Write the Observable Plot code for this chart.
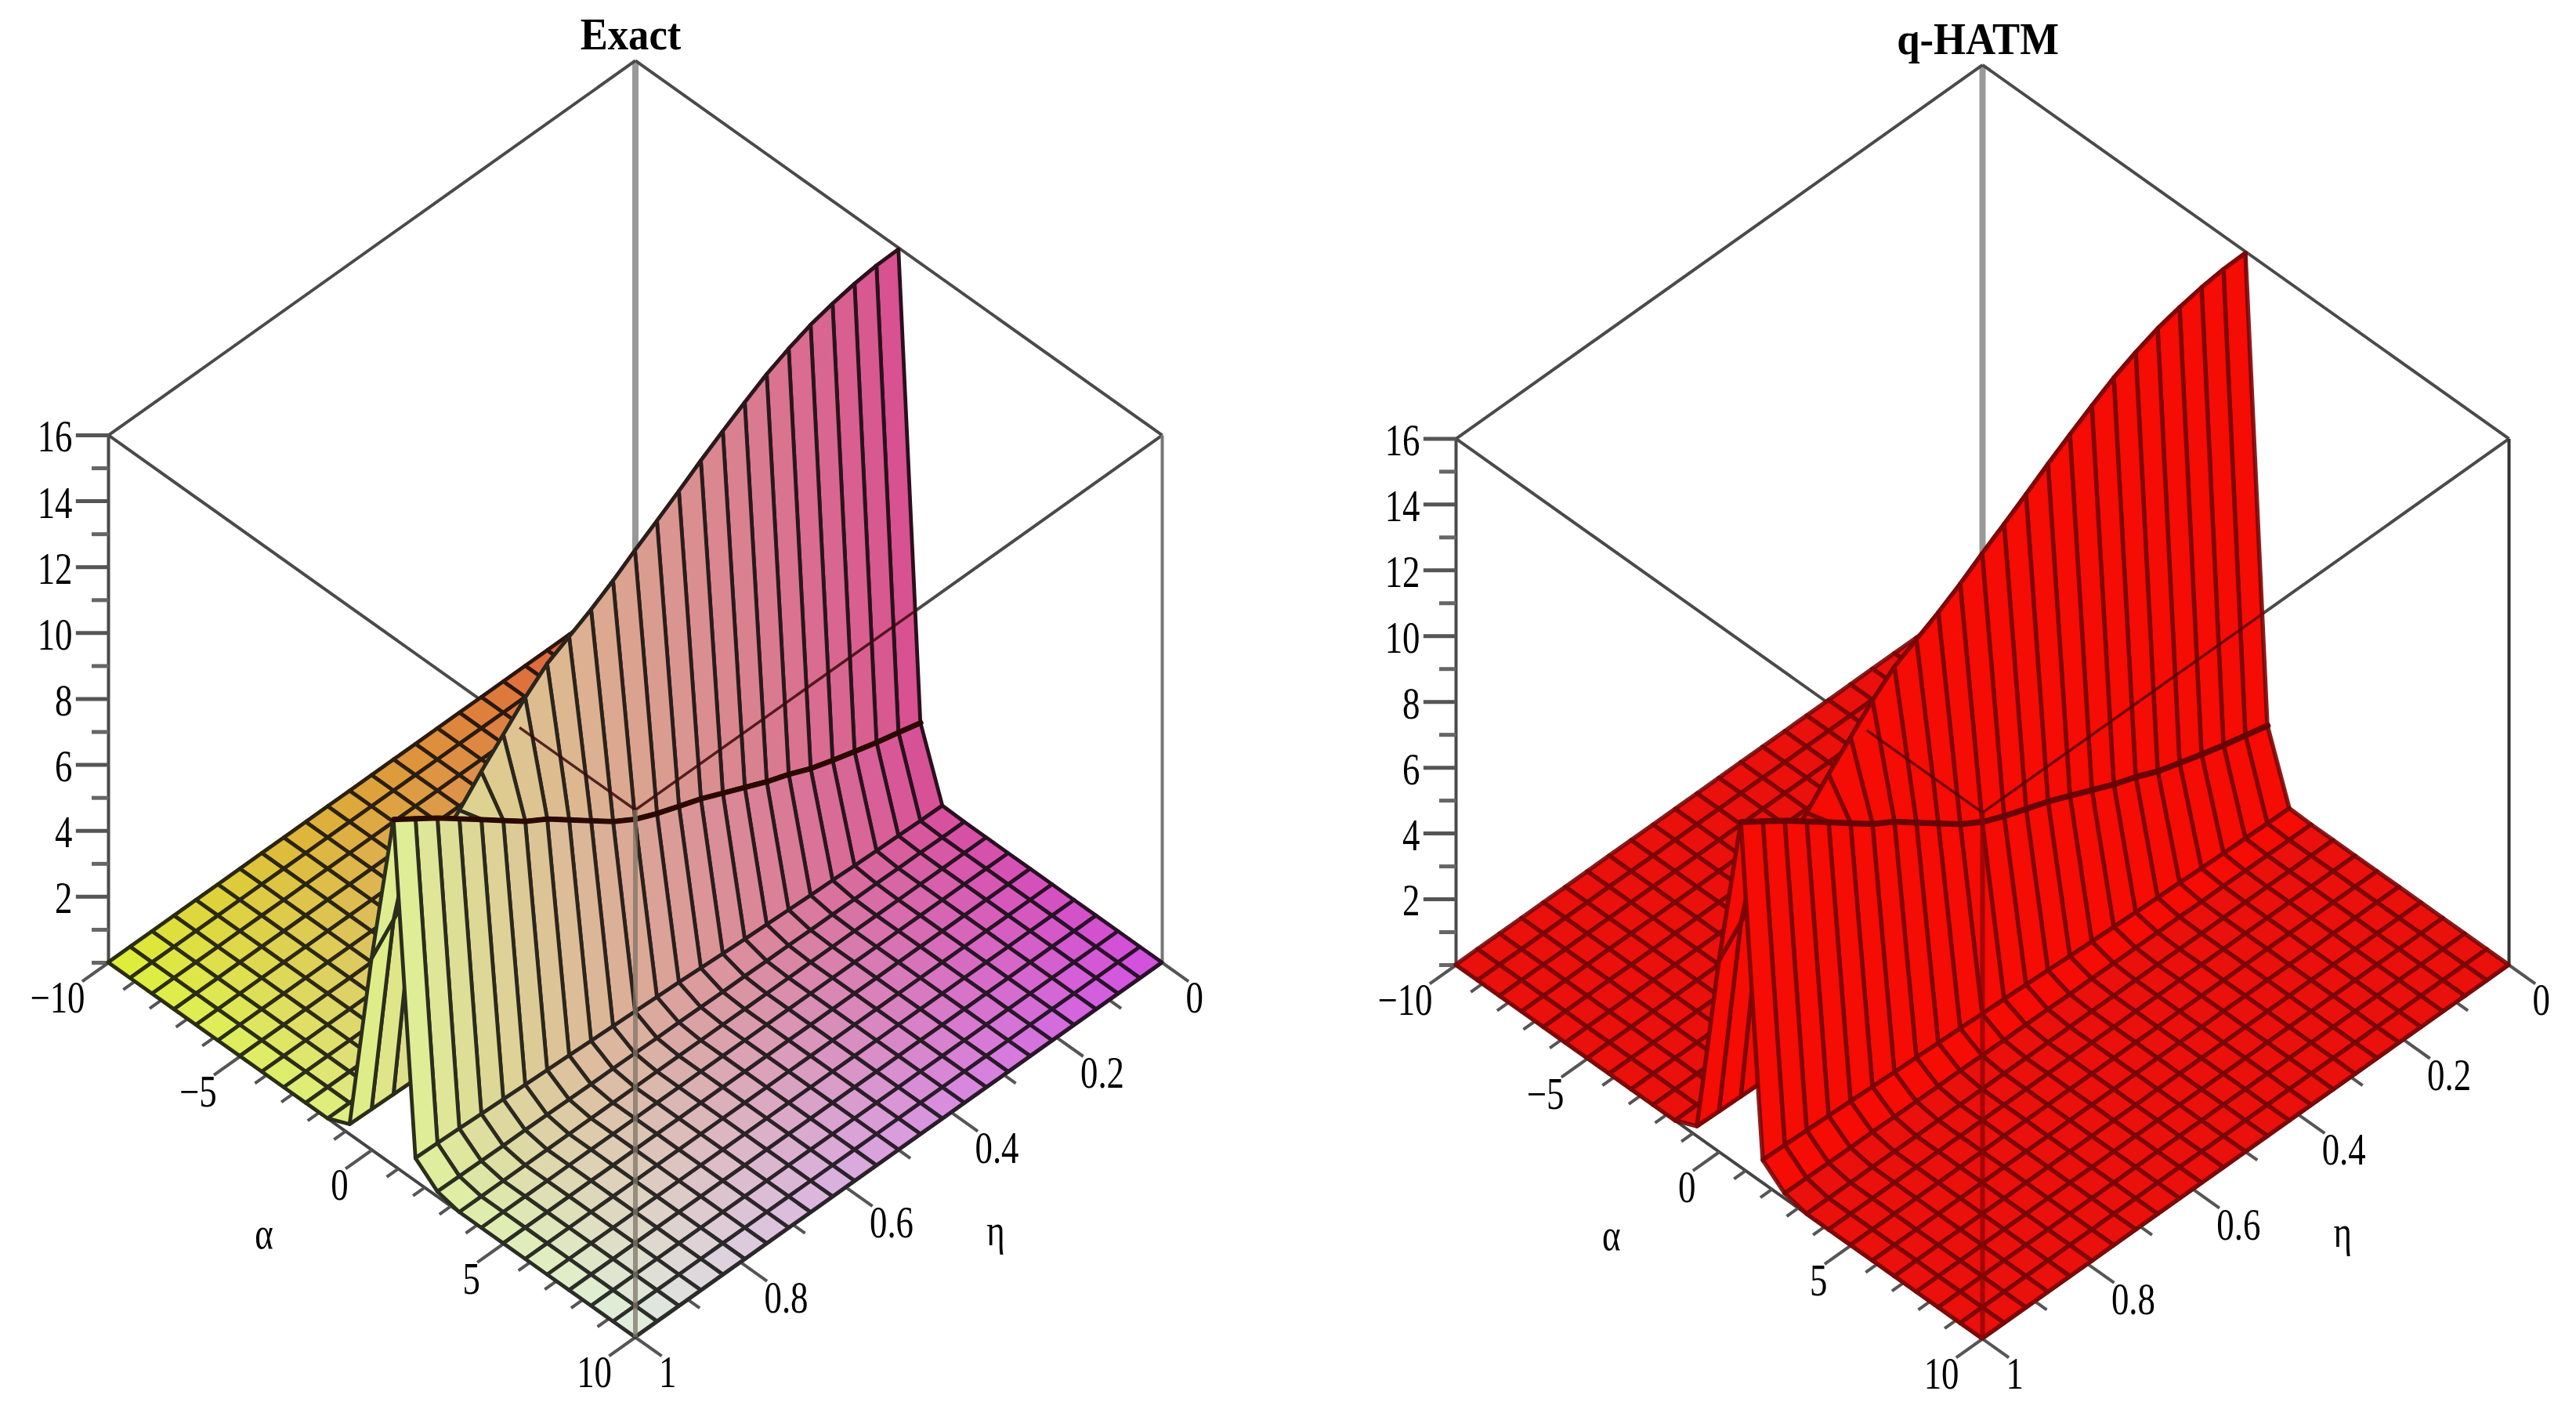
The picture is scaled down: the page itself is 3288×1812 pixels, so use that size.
<!DOCTYPE html>
<html><head><meta charset="utf-8">
<style>html,body{margin:0;padding:0;background:#fff}#row{display:flex;width:3288px}svg{display:block}</style>
<script src="https://cdn.jsdelivr.net/npm/d3@7"></script>
<script src="https://cdn.jsdelivr.net/npm/@observablehq/plot@0.6"></script>
</head><body><div id="row"></div>
<script>
// sampled grid of the surface (Maple gridsize 25 x 25)
const alphaGrid = [-10,-9.167,-8.333,-7.5,-6.667,-5.833,-5,-4.167,-3.333,-2.5,-1.667,-0.833,0,0.833,1.667,2.5,3.333,4.167,5,5.833,6.667,7.5,8.333,9.167,10];
const etaGrid = [0,0.0417,0.0833,0.125,0.1667,0.2083,0.25,0.2917,0.3333,0.375,0.4167,0.4583,0.5,0.5417,0.5833,0.625,0.6667,0.7083,0.75,0.7917,0.8333,0.875,0.9167,0.9583,1];
// heights read along the ridge, one value per eta; everywhere else the surface lies on z = 0
const zAtAlphaM083 = [0.02,0.02,0.03,0.03,0.04,0.05,0.05,0.06,0.07,0.08,0.09,0.1,0.11,0.12,0.13,0.14,0.15,0.17,0.19,0.2,0.22,0.24,0.26,0.28,0.3];
const zAtAlpha0 = [15.95,15.93,15.85,15.72,15.55,15.3,15.0,14.62,14.22,13.8,13.35,12.92,12.5,12.05,11.65,11.3,10.95,10.4,9.75,9.1,8.4,7.8,7.2,6.5,5.8];
const zAtAlpha083 = [2.07,2.25,2.42,2.62,2.83,3.05,3.35,3.6,3.9,4.2,4.5,4.75,5.0,5.3,5.7,6.2,6.7,7.2,7.6,8.1,8.6,9.1,9.6,10.05,10.5];
const zAtAlpha167 = [0.02,0.03,0.05,0.07,0.09,0.12,0.14,0.17,0.2,0.23,0.26,0.3,0.34,0.37,0.4,0.43,0.46,0.49,0.52,0.55,0.58,0.61,0.64,0.67,0.69];
const zAtAlpha25 = [0,0,0.01,0.01,0.02,0.02,0.03,0.03,0.04,0.04,0.05,0.05,0.06,0.07,0.07,0.08,0.09,0.09,0.1,0.11,0.12,0.12,0.13,0.14,0.15];
const ridgeRows = new Map([[11,zAtAlphaM083],[12,zAtAlpha0],[13,zAtAlpha083],[14,zAtAlpha167],[15,zAtAlpha25]]);

const zMajor = [2,4,6,8,10,12,14,16];
const zMinor = [0,1,3,5,7,9,11,13,15];
const alphaMajor = [-10,-5,0,5,10];
const alphaMinor = [-9,-8,-7,-6,-4,-3,-2,-1,1,2,3,4,6,7,8,9];
const etaMajor = [0,0.2,0.4,0.6,0.8,1];
const etaMinor = [0.1,0.3,0.5,0.7,0.9];
const etaLabels = ["0","0.2","0.4","0.6","0.8","1"];
const alphaLabels = ["\u221210","\u22125","0","5","10"];
// corner colours of the left surface: alpha -10 / 10 at eta 0, alpha -10 / 10 at eta 1
const cornerColors = ["#de4d38","#d24ee0","#def038","#e0f0e0"];

const ZSPAN = 16, ZLIFT = 1.408;
// orthographic view: sx = u - v, sy = u + v - lift
const proj = (a,e,z=0) => { const u=(a+10)/20, v=e; return {sx:u-v, sy:u+v-ZLIFT*z/ZSPAN}; };

const cells = (colorFn, edgeFn) => {
  const out=[]; const zAt=(i,j)=> ridgeRows.has(i)?ridgeRows.get(i)[j]:0;
  const order=[];
  for(let i=0;i<alphaGrid.length-1;i++)for(let j=0;j<etaGrid.length-1;j++)order.push([i,j]);
  order.sort((p,q)=>(p[0]+p[1])-(q[0]+q[1]) || p[0]-q[0]);
  order.forEach(([i,j],k)=>{
    const t=(i+.5)/24, s=(j+.5)/24;
    const c=colorFn(t,s,i,j), e=edgeFn(c);
    const p=proj(alphaGrid[i],etaGrid[j],zAt(i,j)), q=proj(alphaGrid[i+1],etaGrid[j],zAt(i+1,j));
    const r=proj(alphaGrid[i],etaGrid[j+1],zAt(i,j+1)), w=proj(alphaGrid[i+1],etaGrid[j+1],zAt(i+1,j+1));
    out.push({k,x1:p.sx,y1:p.sy,x2:r.sx,y2:r.sy,c,e});
    out.push({k,x1:q.sx,y1:q.sy,x2:w.sx,y2:w.sy,c,e});
  });
  return out;
};
const ip = d3.interpolateRgb;
const gradient = (t,s)=> d3.color(ip(ip(cornerColors[0],cornerColors[1])(t),ip(cornerColors[2],cornerColors[3])(t))(s)).formatHex();
const solidRed = (t,s,i,j)=> (i>=11&&i<=14) ? "#f40c05" : "#ea100c";
const darkEdge = (c)=> d3.color(c).darker(4.6).formatHex();
const redEdge = ()=> "#7a0505";

const seg=(a,b)=>{const p=proj(...a),q=proj(...b);return {x1:p.sx,y1:p.sy,x2:q.sx,y2:q.sy};};
const mix=(a,b,t)=>a.map((v,i)=>v+(b[i]-v)*t);
const BT=[-10,0,16],LT=[-10,1,16],RT=[10,0,16],FT=[10,1,16],Bb=[-10,0,0],Lb=[-10,1,0],Rb=[10,0,0],Fb=[10,1,0];

function panel(o){
  const X=o.xr, Y0=o.y0, YS=o.ys;
  const font="Liberation Serif";
  const tickZ=(list,len)=>list.map(z=>{const p=proj(-10,1,z);return {x1:p.sx,y1:p.sy,x2:p.sx-len,y2:p.sy};});
  const tickA=(list,d)=>list.map(a=>seg([a,1,0],[a,1+d,0]));
  const tickE=(list,d)=>list.map(e=>{const p=proj(10,e),q=proj(10+20*d,e);return {x1:p.sx,y1:p.sy,x2:q.sx,y2:q.sy};});
  const textAt=(rows,opts)=>Plot.text(rows,{x:"sx",y:"sy",text:"t",fontFamily:font,fill:"#000",...opts});
  return Plot.plot({
    width:1644,height:1812,margin:0,
    style:{background:"transparent",fontFamily:font},
    x:{type:"linear",domain:[-1,1],range:X,axis:null},
    y:{type:"linear",domain:[-2,2],range:[Y0-2*YS,Y0+2*YS],axis:null},
    color:{type:"identity"},
    marks:[
      Plot.link([seg(BT,Bb)],{x1:"x1",y1:"y1",x2:"x2",y2:"y2",stroke:"#999",strokeWidth:8}),
      Plot.link([seg(BT,LT),seg(BT,RT),seg(LT,FT),seg(RT,FT),seg(LT,Lb)],{x1:"x1",y1:"y1",x2:"x2",y2:"y2",stroke:"#4a4a4a",strokeWidth:4}),
      Plot.link([seg(RT,Rb)],{x1:"x1",y1:"y1",x2:"x2",y2:"y2",stroke:o.rtStroke,strokeWidth:4}),
      Plot.link([seg(Lb,Fb),seg(Rb,Fb)],{x1:"x1",y1:"y1",x2:"x2",y2:"y2",stroke:"#444",strokeWidth:4}),
      Plot.link(tickZ(zMajor,0.062),{x1:"x1",y1:"y1",x2:"x2",y2:"y2",stroke:"#555",strokeWidth:5}),
      Plot.link(tickZ(zMinor,0.032),{x1:"x1",y1:"y1",x2:"x2",y2:"y2",stroke:"#666",strokeWidth:5}),
      Plot.link(tickA(alphaMajor,0.05),{x1:"x1",y1:"y1",x2:"x2",y2:"y2",stroke:"#555",strokeWidth:4}),
      Plot.link(tickA(alphaMinor,0.022),{x1:"x1",y1:"y1",x2:"x2",y2:"y2",stroke:"#555",strokeWidth:4}),
      Plot.link(tickE(etaMajor,0.05),{x1:"x1",y1:"y1",x2:"x2",y2:"y2",stroke:"#555",strokeWidth:4}),
      Plot.link(tickE(etaMinor,0.022),{x1:"x1",y1:"y1",x2:"x2",y2:"y2",stroke:"#555",strokeWidth:4}),
      Plot.area(cells(o.colorFn,o.edgeFn),{x1:"x1",y1:"y1",x2:"x2",y2:"y2",z:"k",fill:"c",stroke:"e",strokeWidth:o.meshW,strokeOpacity:o.meshOp,strokeLinejoin:"round"}),
      Plot.line(etaGrid.map((e,j)=>proj(0.833,e,zAtAlpha083[j])),{x:"sx",y:"sy",stroke:o.thick,strokeWidth:o.meshW+2}),
      Plot.link([seg(mix(LT,FT,0.78),FT),seg(mix(RT,FT,0.47),FT)],{x1:"x1",y1:"y1",x2:"x2",y2:"y2",stroke:o.over,strokeWidth:3.5,strokeOpacity:0.85}),
      Plot.link([seg(FT,Fb)],{x1:"x1",y1:"y1",x2:"x2",y2:"y2",stroke:o.front,strokeWidth:6,strokeOpacity:0.75}),
      textAt(zMajor.map(z=>({...proj(-10,1,z),t:String(z)})),{textAnchor:"end",dx:-46,dy:3,fontSize:56}),
      textAt(alphaMajor.map((a,i)=>({...proj(a,1),t:alphaLabels[i]})),{textAnchor:"end",dx:-30,dy:46,fontSize:56}),
      textAt(etaMajor.map((e,i)=>({...proj(10,e),t:etaLabels[i]})),{textAnchor:"start",dx:30,dy:46,fontSize:56}),
      textAt([{...proj(0.2,1.215),t:"\u03b1"}],{fontSize:56}),
      textAt([{...proj(14,0.516),t:"\u03b7"}],{fontSize:56}),
      textAt([{...proj(-10,0,16),t:o.title}],{fontSize:56,fontWeight:"bold",dx:-6,dy:-32}),
    ]
  });
}
const row=document.getElementById("row");
row.append(panel({title:"Exact",xr:[138,1483],y0:750,ys:478,colorFn:gradient,edgeFn:darkEdge,meshW:4.8,meshOp:1,thick:"#2a0a00",over:"#3a0a0a",front:"#7d7466",rtStroke:"#777"}));
row.append(panel({title:"q-HATM",xr:[214,1558],y0:754,ys:477,colorFn:solidRed,edgeFn:redEdge,meshW:5.5,meshOp:0.9,thick:"#6a0404",over:"#5a0404",front:"#8a0404",rtStroke:"#333"}));
// the reference lettering is tall and narrow
row.querySelectorAll("svg text").forEach(t=>{
  const bold=getComputedStyle(t).fontWeight>=600;
  t.setAttribute("textLength",(t.getComputedTextLength()*(bold?0.94:0.8)).toFixed(1));
  t.setAttribute("lengthAdjust","spacingAndGlyphs");
});
</script></body></html>
